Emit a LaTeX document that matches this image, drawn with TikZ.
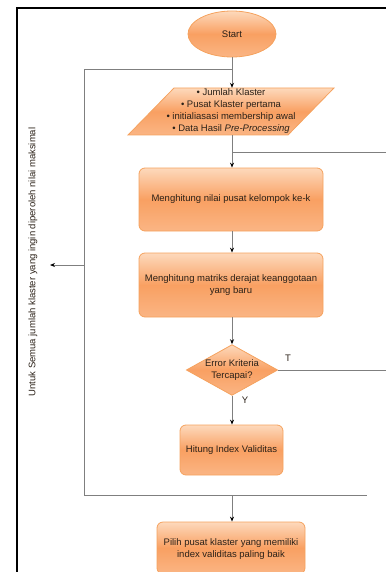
\documentclass[tikz,border=0pt]{standalone}
\usepackage{fontspec}
\setmainfont{Liberation Sans}
\usetikzlibrary{shapes.geometric,arrows.meta}
\definecolor{orTop}{HTML}{FDD9BC}
\definecolor{orMid}{HTML}{F9A062}
\definecolor{orBot}{HTML}{FAB584}
\definecolor{orLine}{HTML}{F5A25E}
\definecolor{lineGray}{HTML}{7F7F7F}
\definecolor{txt}{HTML}{2B2118}
\tikzset{
  shade/.style={draw=orLine, line width=0.8pt, top color=orTop, bottom color=orBot, middle color=orMid},
  glossy/.style={shade, text=txt, font=\fontsize{9.5}{12}\selectfont, align=center, inner sep=0pt},
  procbox/.style={glossy, rectangle, rounded corners=6pt},
  conn/.style={draw=lineGray, line width=0.9pt},
  arr/.style={conn, -{Stealth[length=5pt,width=4pt,black]}},
  lbl/.style={font=\fontsize{9.5}{12}\selectfont, text=txt, inner sep=0pt}
}
\begin{document}
\begin{tikzpicture}[x=1pt,y=-1pt]
\useasboundingbox (0,0) rectangle (385,572);
% frame
\draw[black, line width=2pt] (17,573) -- (17,8) -- (386,8);
% nodes
\node[glossy, ellipse, minimum width=88pt, minimum height=46pt] (start) at (232,34) {Start};
\path[shade] (128,135) -- (174,88) -- (334,88) -- (288,135) -- cycle;
\node[text=txt, font=\fontsize{9.5}{12}\selectfont, align=center, inner sep=0pt, minimum width=160pt, minimum height=47pt] (input) at (231,111.5)
  {\textbullet\ Jumlah Klaster\\ \textbullet\ Pusat Klaster pertama\\ \textbullet\ initialiasasi membership awal\\ \textbullet\ Data Hasil \textit{Pre-Processing}};
\node[procbox, minimum width=184pt, minimum height=63pt] (pusat) at (231,199.5) {Menghitung nilai pusat kelompok ke-k};
\node[procbox, minimum width=184pt, minimum height=64pt] (matriks) at (231,285) {Menghitung matriks derajat keanggotaan\\yang baru};
\node[glossy, diamond, shape aspect=1.8, minimum width=89pt, minimum height=49pt] (err) at (232,370) {Error Kriteria\\Tercapai?};
\node[procbox, minimum width=103pt, minimum height=50pt] (hitung) at (231.5,450) {Hitung Index Validitas};
\node[procbox, minimum width=148pt, minimum height=52pt, text depth=0pt] (pilih) at (231,548) {Pilih pusat klaster yang memiliki\\index validitas paling baik};
% coordinates
\coordinate (loopTop) at (232,69);
\coordinate (loopTL) at (84,69);
\coordinate (loopBL) at (84,495);
\coordinate (loopBot) at (232,495);
\coordinate (loopBR) at (367,495);
\coordinate (loopMid) at (84,265);
\coordinate (loopOut) at (50,265);
\coordinate (retJoin) at (232,152);
\coordinate (retEdge) at (386,152);
\coordinate (tEdge) at (386,370);
% connectors
\draw[arr] (start.south) -- (input.north -| start.south);
\draw[conn] (loopTop) -- (loopTL) -- (loopBL) -- (loopBR);
\draw[arr] (loopMid) -- (loopOut);
\draw[arr] (input.south -| retJoin) -- (pusat.north -| retJoin);
\draw[conn] (retJoin) -- (retEdge);
\draw[arr] (pusat.south -| retJoin) -- (matriks.north -| retJoin);
\draw[arr] (matriks.south -| retJoin) -- (err.north);
\draw[arr] (err.south) -- (hitung.north -| err.south);
\draw[conn] (err.east) -- (tEdge);
\draw[arr] (loopBot) -- (pilih.north -| loopBot);
% labels
\node[lbl] (tlab) at (288,358) {T};
\node[lbl] (ylab) at (245,400) {Y};
\node[lbl, rotate=90] (loopLab) at (33,262) {Untuk Semua jumlah klaster yang ingin diperoleh nilai maksimal};
\end{tikzpicture}
\end{document}
